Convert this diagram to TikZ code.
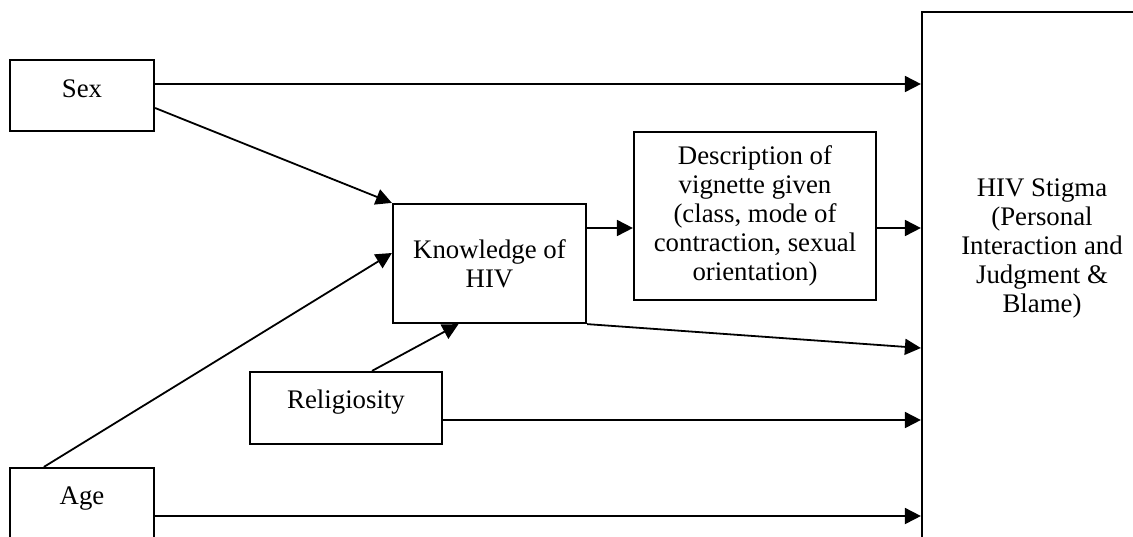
\documentclass[tikz,border=0pt]{standalone}
\usepackage{fontspec}
\setmainfont{Liberation Serif}
\usetikzlibrary{arrows.meta}

\tikzset{
  box/.style={draw, line width=1.1pt, inner sep=0pt, font=\fontsize{13.4}{14.5}\selectfont},
  arr/.style={-{Triangle[length=8pt,width=8pt]}, line width=0.9pt},
}

\begin{document}
\begin{tikzpicture}[x=0.5pt,y=-0.5pt]
    \useasboundingbox (0,0) rectangle (1133,536);
    \clip (0,0) rectangle (1133,536);
%    \draw[help lines,step=50] (0,0) grid (1133,536);
    \node[box, minimum width=72pt, text height=18.5pt, text depth=17pt] (sex) at (82,95.5) {Sex};
    \node[box, minimum width=72pt, text height=18pt, text depth=17.5pt] (age) at (82,503.5) {Age};
    \node[box, minimum width=96pt, text height=18pt, text depth=18pt] (relig) at (346,408) {Religiosity};
    \node[box, minimum width=96.5pt, minimum height=59.5pt, align=center] (knowl) at (489.5,263.5) {Knowledge of\\HIV};
    \node[box, minimum width=121pt, minimum height=84pt, align=center] (vign) at (755,216)
        {Description of\\vignette given\\(class, mode of\\contraction, sexual\\orientation)};
    \node[box, minimum width=120pt, minimum height=274pt] (stigma) at (1042,286) {};
    \node[font=\fontsize{13.4}{14.5}\selectfont, align=center] (stigma-txt) at (1042,248)
        {HIV Stigma\\(Personal\\Interaction and\\Judgment \&\\Blame)};

    \coordinate (y-sex)   at (0,84);
    \coordinate (y-sexk)  at (0,108);
    \coordinate (y-agek)  at (0,253);
    \coordinate (y-vign)  at (0,228);
    \coordinate (y-knowl) at (0,348);
    \coordinate (y-relig) at (0,420);
    \coordinate (y-age)   at (0,516);

    \draw[arr] (sex.east |- y-sex)     to (stigma.west |- y-sex);
    \draw[arr] (sex.east |- y-sexk)    to (knowl.north west);
    \draw[arr] ([xshift=17.5pt]age.north west) to (knowl.west |- y-agek);
    \draw[arr] ([xshift=13pt]relig.north) to ([xshift=-15.5pt]knowl.south);
    \draw[arr] (knowl.east |- y-vign)  to (vign.west |- y-vign);
    \draw[arr] (vign.east |- y-vign)   to (stigma.west |- y-vign);
    \draw[arr] (knowl.south east)      to (stigma.west |- y-knowl);
    \draw[arr] (relig.east |- y-relig) to (stigma.west |- y-relig);
    \draw[arr] (age.east |- y-age)     to (stigma.west |- y-age);
\end{tikzpicture}
\end{document}
